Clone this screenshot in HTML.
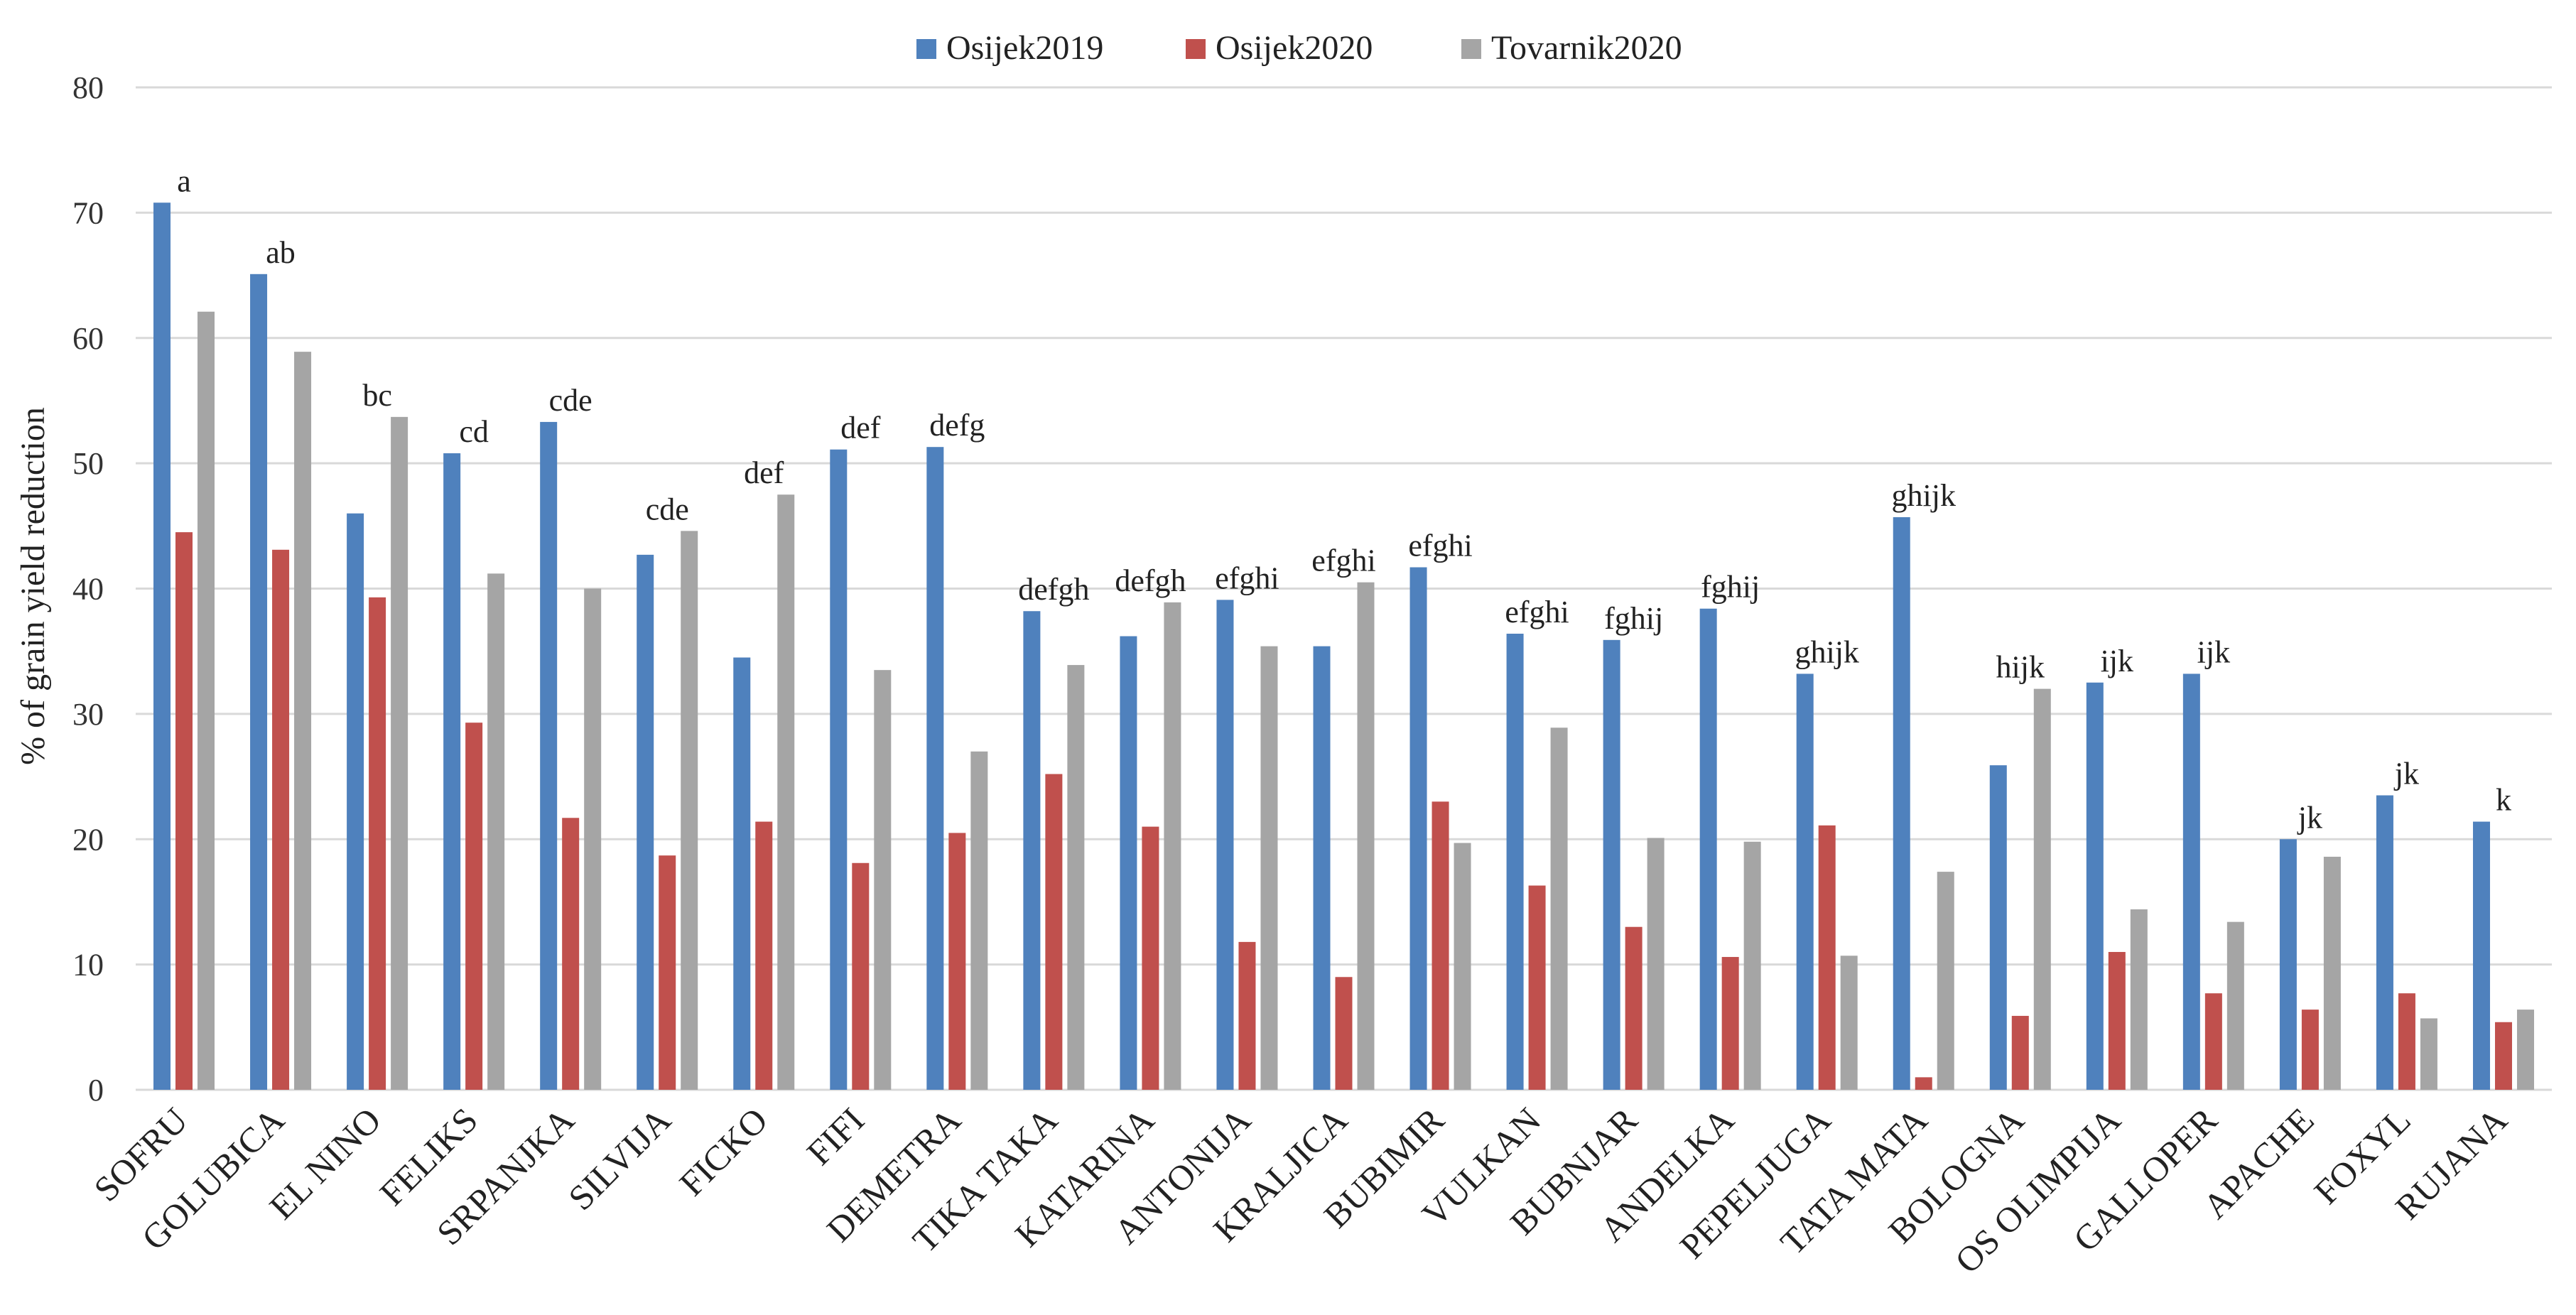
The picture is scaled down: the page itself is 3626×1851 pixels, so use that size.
<!DOCTYPE html>
<html><head><meta charset="utf-8"><style>
html,body{margin:0;padding:0;background:#fff;}
svg{display:block;font-family:"Liberation Serif",serif;}
</style></head><body>
<svg id="chart" width="3626" height="1851" xmlns="http://www.w3.org/2000/svg">
<g id="grid"></g><g id="bars"></g><g id="labels"></g>
<text transform="translate(62,825) rotate(-90)" text-anchor="middle" font-size="48" fill="#222">% of grain yield reduction</text>
<g>
<rect x="1290" y="55" width="28" height="28" fill="#4f81bd"/>
<text x="1332" y="83" font-size="48" fill="#222">Osijek2019</text>
<rect x="1669" y="55" width="28" height="28" fill="#c0504d"/>
<text x="1711" y="83" font-size="48" fill="#222">Osijek2020</text>
<rect x="2057" y="55" width="28" height="28" fill="#a5a5a5"/>
<text x="2099" y="83" font-size="48" fill="#222">Tovarnik2020</text>
</g>
</svg>
<script>
const categories=["SOFRU","GOLUBICA","EL NINO","FELIKS","SRPANJKA","SILVIJA","FICKO","FIFI","DEMETRA","TIKA TAKA","KATARINA","ANTONIJA","KRALJICA","BUBIMIR","VULKAN","BUBNJAR","ANDELKA","PEPELJUGA","TATA MATA","BOLOGNA","OS OLIMPIJA","GALLOPER","APACHE","FOXYL","RUJANA"];
const osijek2019=[70.8,65.1,46,50.8,53.3,42.7,34.5,51.1,51.3,38.2,36.2,39.1,35.4,41.7,36.4,35.9,38.4,33.2,45.7,25.9,32.5,33.2,20,23.5,21.4];
const osijek2020=[44.5,43.1,39.3,29.3,21.7,18.7,21.4,18.1,20.5,25.2,21,11.8,9,23,16.3,13,10.6,21.1,1,5.9,11,7.7,6.4,7.7,5.4];
const tovarnik2020=[62.1,58.9,53.7,41.2,40,44.6,47.5,33.5,27,33.9,38.9,35.4,40.5,19.7,28.9,20.1,19.8,10.7,17.4,32,14.4,13.4,18.6,5.7,6.4];
const letters=["a","ab","bc","cd","cde","cde","def","def","defg","defgh","defgh","efghi","efghi","efghi","efghi","fghij","fghij","ghijk","ghijk","hijk","ijk","ijk","jk","jk","k"];
const yTicks=[0,10,20,30,40,50,60,70,80];
const NS="http://www.w3.org/2000/svg";
const L=191,R=3592,Y0=1534,Ytop=123,yMax=80;
const y=v=>Y0-(v/yMax)*(Y0-Ytop);
const bandW=(R-L)/categories.length;
const xc=i=>L+bandW*(i+0.5);
function mk(tag,attrs,parent){const e=document.createElementNS(NS,tag);for(const k in attrs)e.setAttribute(k,attrs[k]);parent.appendChild(e);return e;}
const grid=document.getElementById('grid'),bars=document.getElementById('bars'),labels=document.getElementById('labels');
yTicks.forEach(t=>{
 const ln=mk('line',{x1:L,x2:R,y1:y(t),y2:y(t),stroke:'#d9d9d9','stroke-width':3},grid);
 
 
 const tx=mk('text',{x:146,y:y(t)+15,'text-anchor':'end','font-size':44,fill:'#333'},grid);
 tx.textContent=t;
 
 
});
const series=[[osijek2019,'#4f81bd','osijek2019'],[osijek2020,'#c0504d','osijek2020'],[tovarnik2020,'#a5a5a5','tovarnik2020']];
const bw=24,step=31;
categories.forEach((c,i)=>{
 series.forEach((s,j)=>{
  const v=s[0][i];const x=xc(i)+(j-1)*step-bw/2;
  const r=mk('rect',{x:x,y:y(v),width:bw,height:Y0-y(v),fill:s[1]},bars);
  
  
 });
 const mx=Math.max(osijek2019[i],osijek2020[i],tovarnik2020[i]);
 const lt=mk('text',{x:xc(i),y:y(mx)-16,'text-anchor':'middle','font-size':44,fill:'#222'},labels);
 lt.textContent=letters[i];
 
 
 const xl=mk('text',{transform:'translate('+(xc(i)+8)+','+(Y0+46)+') rotate(-45)','text-anchor':'end','font-size':50,fill:'#222'},labels);
 xl.textContent=c;
 
 
});
</script>
</body></html>
